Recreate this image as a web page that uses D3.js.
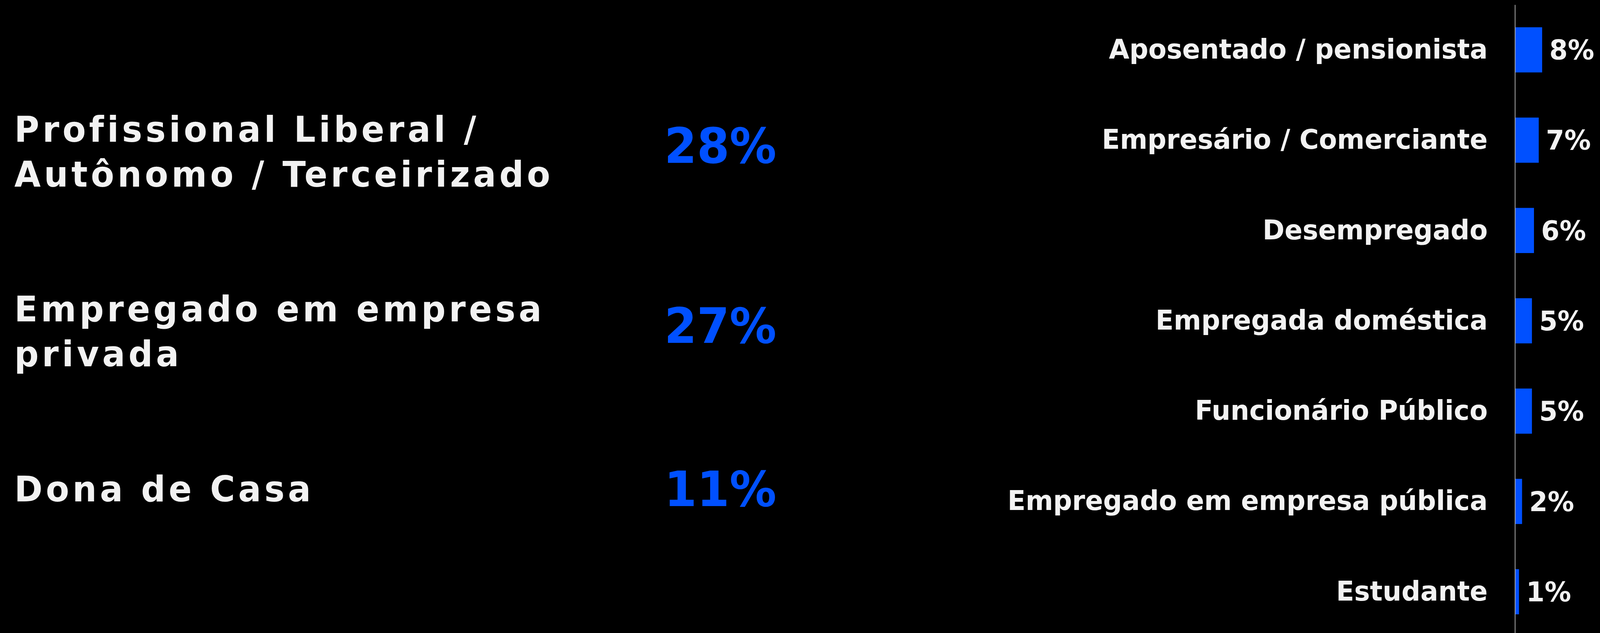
<!DOCTYPE html>
<html>
<head>
<meta charset="utf-8">
<script src="https://cdn.jsdelivr.net/npm/d3@7"></script>
<style>
  html, body { margin: 0; padding: 0; background: #000; overflow: hidden; }
  svg { display: block; width: 100vw; height: 100vh; }
</style>
</head>
<body>
<div id="chart"></div>
<script>
// left panel: main occupations
const mainLabels = [
    ["Profissional Liberal /", "Autônomo / Terceirizado"],
    ["Empregado em empresa", "privada"],
    ["Dona de Casa"]
];
const mainValues = [28, 27, 11];

// right panel: the rest, as bars
const categories = [
    "Aposentado / pensionista",
    "Empresário / Comerciante",
    "Desempregado",
    "Empregada doméstica",
    "Funcionário Público",
    "Empregado em empresa pública",
    "Estudante"
];
const values = [8, 7, 5.6, 5, 5, 2.1, 1.2];

const width = 4231, height = 1621;
const blue = "#0050ff", light = "#f2f2f2";
const font = "'DejaVu Sans', sans-serif";

const svg = d3.select("#chart").append("svg")
    .attr("viewBox", `0 0 ${width} ${height}`)
    .attr("preserveAspectRatio", "none");

svg.append("rect")
    .attr("width", width)
    .attr("height", height)
    .attr("fill", "#000");

// ---- left panel
const lineHeight = 115;
const mainFont = 90, pctFont = 124;
const yMain = d3.scalePoint()
    .domain(d3.range(mainLabels.length))
    .range([363, 1284]);

const left = svg.append("g").attr("class", "main");

const rows = left.selectAll("g.row")
    .data(mainLabels.map((lines, i) => ({lines, value: mainValues[i], i})))
    .join("g")
    .attr("class", "row");

rows.append("text")
    .attr("x", 38)
    .attr("y", d => yMain(d.i))
    .attr("fill", light)
    .attr("font-family", font)
    .attr("font-weight", "bold")
    .attr("font-size", mainFont)
    .attr("letter-spacing", 8.5)
    .selectAll("tspan")
    .data(d => d.lines)
    .join("tspan")
    .attr("x", 38)
    .attr("dy", (d, j) => j === 0 ? 0 : lineHeight)
    .text(d => d);

// percentage sits a little below the first line of its label
rows.append("text")
    .attr("x", 1905)
    .attr("y", d => yMain(d.i) - mainFont * 0.73 / 2 + (d.lines.length - 1) * lineHeight * 0.37)
    .attr("dy", "0.36em")
    .attr("text-anchor", "middle")
    .attr("fill", blue)
    .attr("font-family", font)
    .attr("font-weight", "bold")
    .attr("font-size", pctFont)
    .text(d => d.value + "%");

// ---- right panel: horizontal bars
const x0 = 4006;
const x = d3.scaleLinear().domain([0, 10]).range([x0, x0 + 90]);
const y = d3.scaleBand()
    .domain(categories)
    .range([12, 1631])
    .paddingInner(0.5)
    .paddingOuter(0.25);

const bars = svg.append("g").attr("class", "bars");

bars.selectAll("rect")
    .data(values)
    .join("rect")
    .attr("x", x(0))
    .attr("y", (d, i) => y(categories[i]))
    .attr("width", d => x(d) - x(0))
    .attr("height", y.bandwidth())
    .attr("fill", blue);

bars.selectAll("text.value")
    .data(values)
    .join("text")
    .attr("class", "value")
    .attr("x", d => x(d) + 19)
    .attr("y", (d, i) => y(categories[i]) + y.bandwidth() / 2)
    .attr("dy", "0.35em")
    .attr("fill", light)
    .attr("font-family", font)
    .attr("font-weight", "bold")
    .attr("font-size", 70)
    .text(d => Math.round(d) + "%");

// category axis, only the baseline and the labels
const axis = svg.append("g")
    .attr("class", "y axis")
    .attr("transform", `translate(${x0},0)`)
    .call(d3.axisLeft(y).tickSize(0).tickPadding(72).tickSizeOuter(0));

axis.select(".domain")
    .attr("stroke", "#b0b0b0")
    .attr("stroke-width", 2);

axis.selectAll("text")
    .attr("fill", light)
    .attr("font-family", font)
    .attr("font-weight", "bold")
    .attr("font-size", 70);
</script>
</body>
</html>
